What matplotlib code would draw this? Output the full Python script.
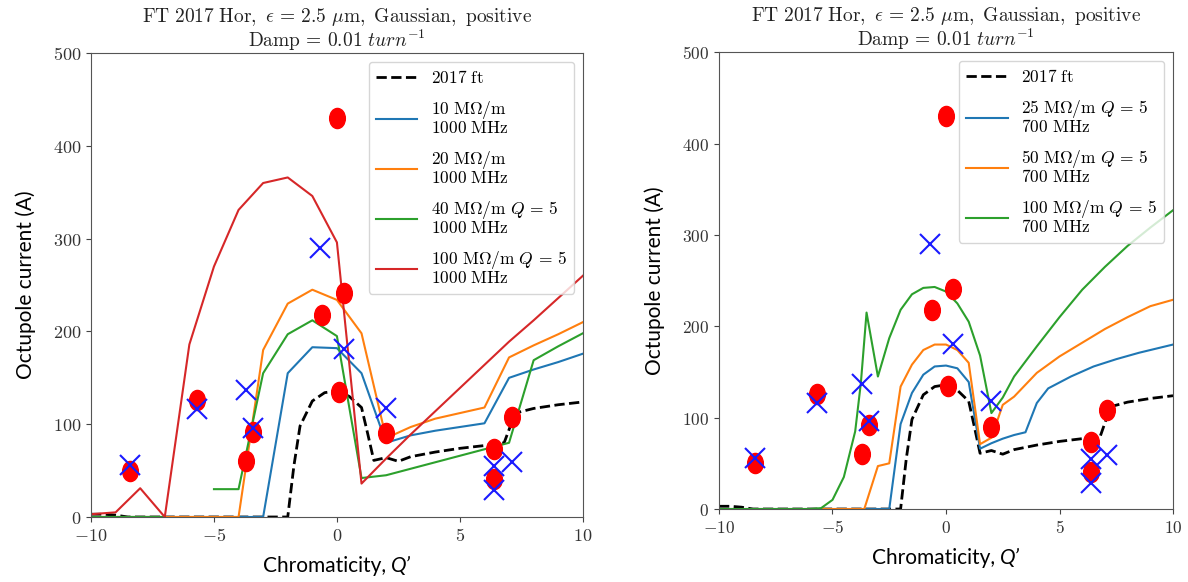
"""
Octupole current threshold vs chromaticity, FT 2017 horizontal plane:
measured points against simulated broadband / resonator impedance models.
"""
import numpy as np
import matplotlib
matplotlib.use("Agg")
import matplotlib.pyplot as plt
from matplotlib.path import Path
from matplotlib.transforms import Affine2D
from matplotlib.ticker import FuncFormatter
from matplotlib.offsetbox import TextArea, HPacker, AnchoredOffsetbox

plt.rcParams["mathtext.fontset"] = "cm"

# ── Measurements (shared by both panels) ─────────────────────────────────────
meas_dot_x = [-8.4, -5.7, -3.7, -3.4, -0.6, 0.0, 0.3, 0.1, 2.0, 6.4, 6.4, 7.1]
meas_dot_y = [50, 126, 60, 92, 218, 430, 241, 135, 90, 73, 41, 108]
meas_x_x   = [-8.4, -5.7, -3.7, -3.4, -0.7, 0.3, 2.0, 6.4, 6.4, 7.1]
meas_x_y   = [56, 116, 137, 96, 290, 181, 118, 55, 29, 59]

# ── 2017 ft reference (shared) ───────────────────────────────────────────────
ft_x = [-10, -9.5, -9, -8.5, -2, -1.75, -1.5, -1, -0.5, 0, 0.5, 1, 1.25, 1.5,
        2, 2.5, 3, 4, 5, 6, 6.8, 7.25, 8, 9, 10]
ft_y = [3, 3, 2, 0, 0, 55, 98, 125, 134, 136, 130, 118, 90, 61,
        64, 60, 65, 70, 74, 77, 80, 112, 117, 121, 124]

# ── Left panel: 1000 MHz models ──────────────────────────────────────────────
qp_int = list(range(-10, 11))
l_10mohm  = [0, 0, 0, 0, 0, 0, 0, 0, 155, 183, 182, 155, 80, 88, 93, 97, 101,
             150, 159, 167, 176]
l_20mohm  = [0, 0, 0, 0, 0, 0, 0, 180, 230, 245, 234, 198, 85, 97, 106, 112,
             118, 172, 185, 197, 210]
l_40mohm  = [0, 0, 0, 0, np.nan, 30, 30, 155, 197, 212, 195, 42, 45, 52, 59,
             66, 73, 80, 169, 184, 198]
l_100mohm = [3, 5, 31, 0, 186, 270, 331, 360, 366, 346, 296, 36, 63, 89, 114,
             139, 164, 189, 212, 236, 260]

# ── Right panel: 700 MHz models ──────────────────────────────────────────────
r25_x = [-10, -2.5, -2.0, -1.5, -1.0, -0.5, 0, 0.5, 1.0, 1.5, 2.0, 2.5, 3.0,
         3.5, 4.0, 4.5, 5.5, 6.5, 7.5, 8.5, 10]
r25_y = [0, 0, 93, 127, 147, 156, 157, 154, 139, 66, 72, 77, 81,
         84, 116, 132, 145, 156, 164, 171, 180]
r50_x = [-10, -3.6, -3.0, -2.5, -2.0, -1.5, -1.0, -0.5, 0, 0.5, 1.0, 1.5, 2.0,
         2.5, 3.0, 4, 5, 6, 7, 8, 9, 10]
r50_y = [0, 0, 47, 50, 134, 158, 174, 180, 180, 174, 160, 71, 78,
         114, 123, 149, 167, 182, 197, 210, 222, 229]
r100_x = [-10, -6, -5.5, -5, -4.5, -4, -3.75, -3.5, -3, -2.5, -2, -1.5, -1,
          -0.5, 0, 0.5, 1, 1.5, 2, 2.5, 3, 4, 5, 6, 7, 8, 9, 10]
r100_y = [0, 0, 1, 10, 35, 85, 138, 215, 145, 187, 218, 235, 242,
          243, 238, 225, 205, 168, 105, 122, 145, 178, 210, 240, 265, 288, 308, 327]

# ── Styling ──────────────────────────────────────────────────────────────────
C_BLUE, C_ORANGE, C_GREEN, C_RED = "#1f77b4", "#ff7f0e", "#2ca02c", "#d62728"
ELLIPSE = Path.unit_circle().transformed(Affine2D().scale(0.78, 1.0))
TITLE = (r"$\mathrm{FT\ 2017\ Hor,}\ \epsilon\, =\, 2.5\ \mu\mathrm{m,\ Gaussian,\ positive}$"
         "\n" r"$\mathrm{Damp}\, =\, 0.01\ turn^{-1}$")
SANS = "Lato"


def mlabel(top, bottom):
    return top + "\n" + bottom


def style_axes(ax, tick_size):
    ax.set_xlim(-10, 10)
    ax.set_ylim(0, 500)
    ax.set_xticks([-10, -5, 0, 5, 10])
    ax.set_yticks([0, 100, 200, 300, 400, 500])
    fmt = FuncFormatter(lambda v, p: rf"${v:g}$")
    ax.xaxis.set_major_formatter(fmt)
    ax.yaxis.set_major_formatter(fmt)
    ax.tick_params(labelsize=tick_size, colors="#444444", labelcolor="#333333")
    for s in ax.spines.values():
        s.set_color("#555555")
    ax.set_title(TITLE, fontsize=14, color="#222222", pad=4, linespacing=1.0)
    ax.set_ylabel("Octupole current (A)", family=SANS, fontsize=15, labelpad=12)
    # x label: "Chromaticity, " + italic Q'
    box = HPacker(children=[
        TextArea("Chromaticity, ", textprops=dict(family=SANS, size=15)),
        TextArea("Q\u2019", textprops=dict(family=SANS, size=15, style="italic")),
    ], pad=0, sep=0, align="baseline")
    anch = AnchoredOffsetbox(loc="upper center", child=box, frameon=False,
                             bbox_to_anchor=(0.5, -0.085),
                             bbox_transform=ax.transAxes, borderpad=0, pad=0)
    ax.add_artist(anch)


def measurements(ax):
    ax.plot(meas_dot_x, meas_dot_y, ls="none", marker=ELLIPSE, ms=14.5,
            color="#ff0000", mec="#ff0000", zorder=6)
    ax.plot(meas_x_x, meas_x_y, ls="none", marker="x", ms=14, mew=1.5,
            color="#1a1aff", zorder=7)


def add_legend(ax):
    leg = ax.legend(loc="upper right", fontsize=12.5, labelspacing=0.7,
                    handlelength=2.4, borderaxespad=0.5)
    for t in leg.get_texts():
        t.set_linespacing(0.85)
    return leg


fig = plt.figure(figsize=(11.88, 5.82), dpi=100)
fig.patch.set_facecolor("white")

# ── Left panel ───────────────────────────────────────────────────────────────
axL = fig.add_axes([0.0766, 0.1117, 0.414, 0.797])
axL.plot(ft_x, ft_y, "k--", lw=2, label=r"$\mathrm{2017\ ft}$")
axL.plot(qp_int, l_10mohm, color=C_BLUE, lw=1.5,
         label=mlabel(r"$10\ \mathrm{M\Omega/m}$", r"$1000\ \mathrm{MHz}$"))
axL.plot(qp_int, l_20mohm, color=C_ORANGE, lw=1.5,
         label=mlabel(r"$20\ \mathrm{M\Omega/m}$", r"$1000\ \mathrm{MHz}$"))
axL.plot(qp_int, l_40mohm, color=C_GREEN, lw=1.5,
         label=mlabel(r"$40\ \mathrm{M\Omega/m}\ Q\, =\, 5$", r"$1000\ \mathrm{MHz}$"))
axL.plot(qp_int, l_100mohm, color=C_RED, lw=1.5,
         label=mlabel(r"$100\ \mathrm{M\Omega/m}\ Q\, =\, 5$", r"$1000\ \mathrm{MHz}$"))
measurements(axL)
style_axes(axL, 13)
add_legend(axL)

# ── Right panel ──────────────────────────────────────────────────────────────
axR = fig.add_axes([0.6052, 0.1254, 0.3822, 0.785])
axR.plot(ft_x, ft_y, "k--", lw=2, label=r"$\mathrm{2017\ ft}$")
axR.plot(r25_x, r25_y, color=C_BLUE, lw=1.5,
         label=mlabel(r"$25\ \mathrm{M\Omega/m}\ Q\, =\, 5$", r"$700\ \mathrm{MHz}$"))
axR.plot(r50_x, r50_y, color=C_ORANGE, lw=1.5,
         label=mlabel(r"$50\ \mathrm{M\Omega/m}\ Q\, =\, 5$", r"$700\ \mathrm{MHz}$"))
axR.plot(r100_x, r100_y, color=C_GREEN, lw=1.5,
         label=mlabel(r"$100\ \mathrm{M\Omega/m}\ Q\, =\, 5$", r"$700\ \mathrm{MHz}$"))
measurements(axR)
style_axes(axR, 12.5)
add_legend(axR)

fig.savefig("out.png", dpi=100, facecolor="white")
print("saved out.png")
